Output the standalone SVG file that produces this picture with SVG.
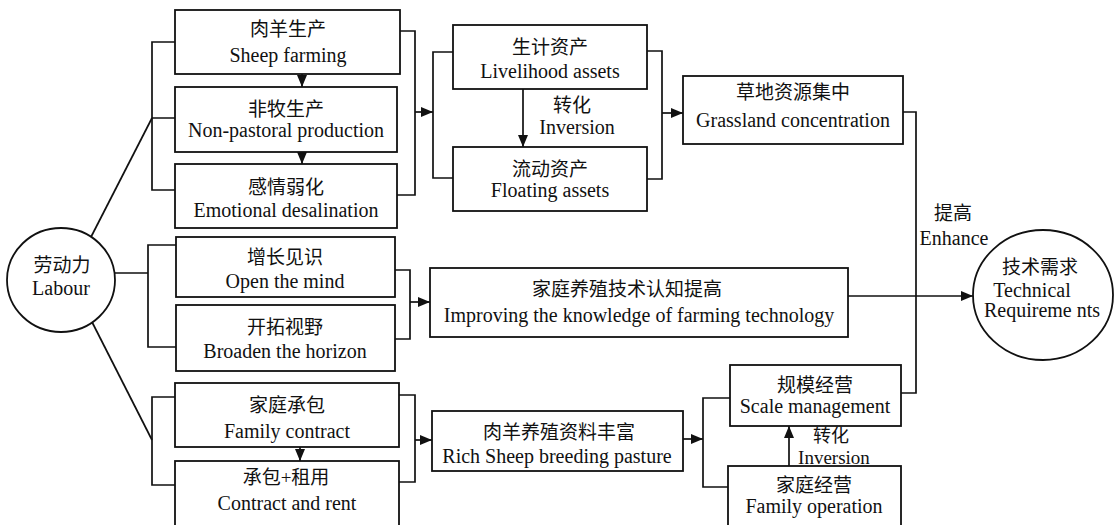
<svg xmlns="http://www.w3.org/2000/svg" width="1118" height="525" viewBox="0 0 1118 525">
<style>
.box{fill:#fff;stroke:#111;stroke-width:1.8}
.ln{fill:none;stroke:#111;stroke-width:1.7}
.ar{fill:none;stroke:#111;stroke-width:1.7;marker-end:url(#ah)}
.zh{font-family:"Liberation Serif","Noto Sans CJK SC",serif;font-size:19px;fill:#111;text-anchor:middle}
.en{font-family:"Liberation Serif",serif;font-size:20px;fill:#111;text-anchor:middle}
</style>
<defs>
<marker id="ah" viewBox="0 0 12 10" refX="12" refY="5" markerWidth="12" markerHeight="10" markerUnits="userSpaceOnUse" orient="auto">
<path d="M0,0 L12,5 L0,10 z" fill="#111"/>
</marker>
</defs>
<rect width="1118" height="525" fill="#fff"/>

<g id="connectors">
<line class="ln" x1="91" y1="237" x2="152" y2="118"/>
<path class="ln" d="M175,42 H152 V190 H175 M152,118 H175"/>
<path class="ln" d="M115,273 H148 M176,245 H148 V347 H176"/>
<line class="ln" x1="91" y1="320" x2="152" y2="440"/>
<path class="ln" d="M175,397 H152 V485 H175"/>
<path class="ar" d="M302,74 V87"/>
<path class="ar" d="M302,152 V164"/>
<path class="ar" d="M300,447 V461"/>
<path class="ln" d="M400,31 H415 V195 H397"/>
<path class="ar" d="M415,112 H433"/>
<path class="ln" d="M453,52 H433 V178 H453"/>
<path class="ln" d="M647,51 H662 V179 H647"/>
<path class="ar" d="M662,113 H683"/>
<path class="ar" d="M523,89 V147"/>
<path class="ln" d="M393,270 H410 V339 H395"/>
<path class="ar" d="M410,302 H430"/>
<path class="ln" d="M395,395 H415 V482 H399"/>
<path class="ar" d="M415,440 H432"/>
<path class="ar" d="M683,439 H703"/>
<path class="ln" d="M730,398 H703 V487 H728"/>
<path class="ar" d="M789,466 V426"/>
<path class="ln" d="M903,112 H916 V393 H901"/>
<path class="ar" d="M848,296 H973"/>
<text class="zh" x="572" y="112">转化</text>
<text class="en" x="577" y="134">Inversion</text>
<text class="zh" x="831" y="442" style="font-size:18px">转化</text>
<text class="en" x="834" y="464" style="font-size:19px">Inversion</text>
<text class="zh" x="953" y="220">提高</text>
<text class="en" x="954" y="245">Enhance</text>
</g>

<g id="labour">
<ellipse class="box" cx="61" cy="280" rx="54" ry="52"/>
<text class="zh" x="62" y="272">劳动力</text>
<text class="en" x="61" y="295">Labour</text>
</g>

<g id="sheep-farming">
<rect class="box" x="175" y="10" width="225" height="64"/>
<text class="zh" x="288" y="36">肉羊生产</text>
<text class="en" x="288" y="62">Sheep farming</text>
</g>
<g id="non-pastoral">
<rect class="box" x="175" y="87" width="222" height="65"/>
<text class="zh" x="286" y="116">非牧生产</text>
<text class="en" x="286" y="137">Non-pastoral production</text>
</g>
<g id="emotional">
<rect class="box" x="175" y="164" width="222" height="64"/>
<text class="zh" x="286" y="194">感情弱化</text>
<text class="en" x="286" y="217">Emotional desalination</text>
</g>
<g id="livelihood">
<rect class="box" x="453" y="25" width="194" height="64"/>
<text class="zh" x="550" y="54">生计资产</text>
<text class="en" x="550" y="78">Livelihood assets</text>
</g>
<g id="floating">
<rect class="box" x="453" y="147" width="194" height="64"/>
<text class="zh" x="550" y="176">流动资产</text>
<text class="en" x="550" y="197">Floating assets</text>
</g>
<g id="grassland">
<rect class="box" x="683" y="76" width="220" height="68"/>
<text class="zh" x="793" y="99">草地资源集中</text>
<text class="en" x="793" y="127">Grassland concentration</text>
</g>
<g id="open-mind">
<rect class="box" x="176" y="237" width="219" height="60"/>
<text class="zh" x="285" y="264">增长见识</text>
<text class="en" x="285" y="288">Open the mind</text>
</g>
<g id="broaden">
<rect class="box" x="176" y="305" width="219" height="66"/>
<text class="zh" x="285" y="334">开拓视野</text>
<text class="en" x="285" y="358">Broaden the horizon</text>
</g>
<g id="knowledge">
<rect class="box" x="430" y="268" width="418" height="69"/>
<text class="zh" x="627" y="296">家庭养殖技术认知提高</text>
<text class="en" x="639" y="322">Improving the knowledge of farming technology</text>
</g>
<g id="family-contract">
<rect class="box" x="175" y="383" width="224" height="64"/>
<text class="zh" x="287" y="412">家庭承包</text>
<text class="en" x="287" y="438">Family contract</text>
</g>
<g id="contract-rent">
<rect class="box" x="175" y="461" width="224" height="66"/>
<text class="zh" x="286" y="484">承包+租用</text>
<text class="en" x="287" y="510">Contract and rent</text>
</g>
<g id="rich-sheep">
<rect class="box" x="432" y="411" width="251" height="60"/>
<text class="zh" x="559" y="439">肉羊养殖资料丰富</text>
<text class="en" x="557" y="463">Rich Sheep breeding pasture</text>
</g>
<g id="scale">
<rect class="box" x="730" y="365" width="171" height="61"/>
<text class="zh" x="815" y="392">规模经营</text>
<text class="en" x="815" y="413">Scale management</text>
</g>
<g id="family-operation">
<rect class="box" x="728" y="466" width="173" height="62"/>
<text class="zh" x="814" y="492">家庭经营</text>
<text class="en" x="814" y="513">Family operation</text>
</g>
<g id="technical">
<ellipse class="box" cx="1043" cy="295" rx="70" ry="65"/>
<text class="zh" x="1040" y="274">技术需求</text>
<text class="en" x="1032" y="297">Technical</text>
<text class="en" x="1042" y="317">Requireme nts</text>
</g>
</svg>
